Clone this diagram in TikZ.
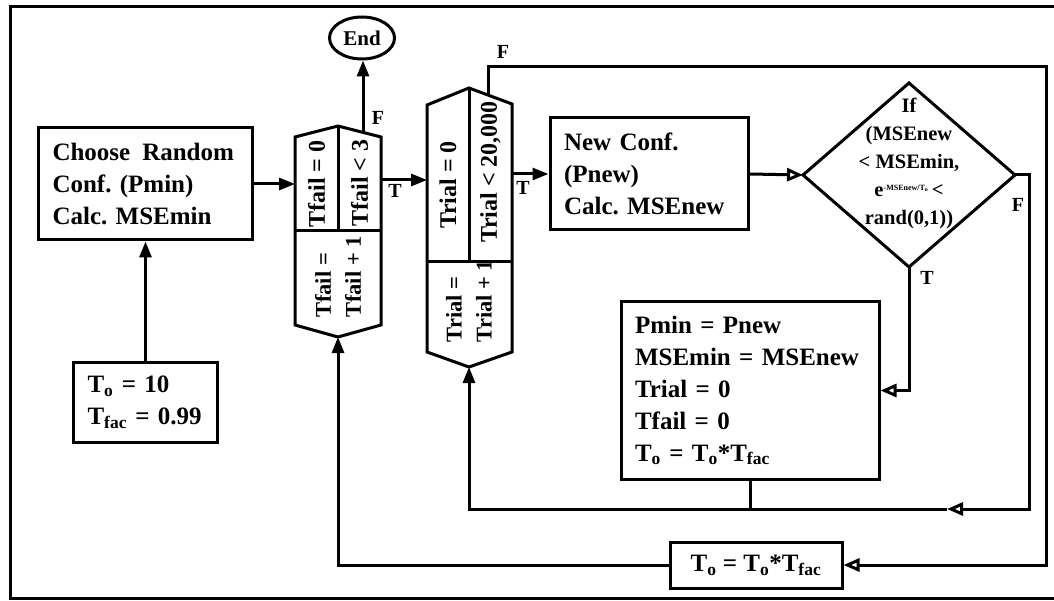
\documentclass[tikz,border=0pt]{standalone}
\usepackage{fontspec}
\setmainfont{Liberation Serif}
\usetikzlibrary{arrows.meta,shapes.geometric}
\newcommand{\boxfont}{\fontsize{25}{32}\selectfont\bfseries}
\newcommand{\rotfont}{\fontsize{24}{30}\selectfont\bfseries}
\newcommand{\rotsmall}{\fontsize{22.5}{30}\selectfont\bfseries}
\newcommand{\diafont}{\fontsize{20.5}{28}\selectfont\bfseries}
\newcommand{\lblfont}{\fontsize{20}{20}\selectfont\bfseries}
\newcommand{\Tsub}[1]{T\textsubscript{#1}}
\frenchspacing
\begin{document}
\begin{tikzpicture}[x=1pt,y=-1pt,line width=3pt,
  box/.style={draw, rectangle, inner xsep=14pt, inner ysep=0pt, align=left, font=\boxfont},
  rottext/.style={rotate=90, inner sep=0pt, font=\rotfont, align=left},
  lbl/.style={inner sep=0pt, font=\lblfont},
  fa/.style={-{Triangle[length=16pt,width=12pt]}},
  oa/.style={-{Triangle[open,length=16pt,width=13pt,line width=3pt]}}]
\useasboundingbox (0,0) rectangle (1054,601);
% frame
\draw (1054,7) -- (10,7) -- (10,598.5) -- (1054,598.5);

% boxes
\node[box, text width=186pt, minimum height=112pt] (choose) at (145.5,184) {Choose\hspace{12pt}Random\\Conf. (Pmin)\\Calc. MSEmin};
\node[box, text width=116pt, minimum height=80pt] (init) at (145.5,402) {\Tsub{o} = 10\\\Tsub{fac} = 0.99};
\node[box, text width=170pt, minimum height=112pt] (newconf) at (649,174) {New Conf.\\(Pnew)\\Calc. MSEnew};
\node[box, text width=230pt, minimum height=177pt] (update) at (750,390.5) {Pmin = Pnew\\MSEmin = MSEnew\\Trial = 0\\Tfail = 0\\\Tsub{o} = \Tsub{o}*\Tsub{fac}};
\node[box, align=center, minimum width=172pt, minimum height=46pt, inner xsep=0pt] (cool) at (756,565) {\Tsub{o} = \Tsub{o}*\Tsub{fac}};
\node[draw, ellipse, minimum width=65pt, minimum height=42pt, inner sep=0pt, font=\fontsize{21}{21}\selectfont\bfseries] (end) at (362,38) {End};

% Tfail hexagon
\coordinate (fA) at (338,126);
\coordinate (fTL) at (295,137);
\coordinate (fTR) at (381,137);
\coordinate (fBL) at (295,325);
\coordinate (fBR) at (381,325);
\coordinate (fB) at (338,337);
\coordinate (fSL) at (295,231);
\coordinate (fSR) at (381,231);
\draw (fA) -- (fTR) -- (fBR) -- (fB) -- (fBL) -- (fTL) -- cycle;
\draw (fSL) -- (fSR);
\draw (fA) -- (fA |- fSL);
\node[rottext] (f1) at (316.5,184) {Tfail = 0};
\node[rottext] (f2) at (359.5,183) {Tfail < 3};
\node[rottext, font=\rotsmall] (f3) at (338,277) {Tfail =\\Tfail + 1};

% Trial hexagon
\coordinate (tA) at (469,88);
\coordinate (tTL) at (427,105);
\coordinate (tTR) at (512,104);
\coordinate (tBL) at (427,352);
\coordinate (tBR) at (512,352);
\coordinate (tB) at (469,367);
\coordinate (tSL) at (427,262);
\coordinate (tSR) at (512,262);
\draw (tA) -- (tTR) -- (tBR) -- (tB) -- (tBL) -- (tTL) -- cycle;
\draw (tSL) -- (tSR);
\draw (tA) -- (tA |- tSL);
\node[rottext] (t1) at (448,185) {Trial = 0};
\node[rottext] (t2) at (490.5,172) {Trial < 20,000};
\node[rottext, font=\rotsmall] (t3) at (469,301) {Trial =\\Trial + 1};

% decision diamond
\coordinate (dT) at (909,83);
\coordinate (dL) at (803,175);
\coordinate (dR) at (1015,175);
\coordinate (dB) at (909,267);
\draw (dT) -- (dR) -- (dB) -- (dL) -- cycle;
\node[font=\diafont, align=center, inner sep=0pt] (cond) at (909,163) {If\\(MSEnew\\< MSEmin,\\e\raisebox{6pt}{\fontsize{8}{8}\selectfont -MSEnew/T\textsubscript{o}}\,<\\rand(0,1))};

% connector points
\coordinate (fIn) at (295,184);
\coordinate (fOut) at (381,180);
\coordinate (tIn) at (427,180);
\coordinate (fF) at (363,132.4);
\coordinate (tF) at (488,95.5);
\coordinate (tOut) at (512,174);
\coordinate (rTop) at (1046,67);
\coordinate (rBot) at (1046,565);
\coordinate (dRight) at (1029,175);
\coordinate (loopArrow) at (947,509);

% connectors
\draw[fa] (choose.east) -- (fIn);
\draw[fa] (init.north) -- (choose.south);
\draw[fa] (fOut) -- (tIn);
\draw[fa] (fF) -- (fF |- end.south);
\draw[oa] (tF) |- (rTop) -- (rBot) -- (cool.east);
\draw[fa] (tOut) -- (newconf.west);
\draw[oa] (newconf.east) -- (dL);
\draw[oa] (dR) -- (dRight) |- (loopArrow);
\draw[fa] (loopArrow) -| (tB);
\draw (update.south) -- (update.south |- loopArrow);
\draw[oa] (dB) |- (update.east);
\draw[fa] (cool.west) -| (fB);

% labels
\node[lbl] (lF1) at (378,118) {F};
\node[lbl] (lT1) at (395,191) {T};
\node[lbl] (lF2) at (503,52) {F};
\node[lbl] (lT2) at (523,188) {T};
\node[lbl] (lF3) at (1018,205) {F};
\node[lbl] (lT3) at (927,278) {T};
\end{tikzpicture}
\end{document}
